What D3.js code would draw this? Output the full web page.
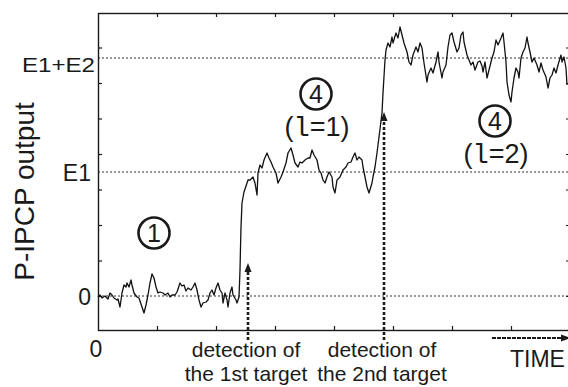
<!DOCTYPE html>
<html>
<head>
<meta charset="utf-8">
<script src="https://cdn.jsdelivr.net/npm/d3@7"></script>
<style>
  body { margin: 0; background: #fff; }
  svg { display: block; font-family: "Liberation Sans", Arial, sans-serif; }
</style>
</head>
<body>
<svg id="chart" width="568" height="387"></svg>
<script>
// output trace, [time step, output]
const trace = [
  [0,-1],[2,1],[4,-2],[7,0],[10,-3],[12,3],[14,1],[16,-2],[19,-4],[20,-3],[22,-11],[24,3],[26,11],[28,9],[29,13],
  [31,9],[33,16],[34,11],[36,3],[39,-1],[41,-2],[44,-11],[46,-17],[48,-9],[50,1],[52,13],[54,22],[56,18],[58,9],
  [60,3],[62,4],[65,3],[67,1],[70,3],[72,-1],[74,1],[77,1],[79,4],[82,13],[84,10],[86,11],[88,5],[90,8],[93,6],
  [95,9],[97,13],[99,6],[101,-4],[103,-11],[105,-7],[108,-6],[110,-4],[112,3],[114,6],[116,1],[118,8],[120,13],
  [122,6],[124,3],[125,-7],[127,3],[129,-4],[130,-11],[132,3],[134,9],[135,1],[138,-4],[139,-7],[141,-1],
  [142,26],[143,69],[144,93],[146,104],[147,107],[150,116],[152,116],[155,119],[157,113],[159,101],[160,123],
  [162,131],[164,128],[166,136],[169,143],[171,138],[173,134],[175,129],[178,123],[180,113],[183,119],[185,124],
  [188,133],[190,143],[193,148],[195,141],[197,133],[200,129],[202,134],[204,133],[207,136],[210,138],[212,138],
  [214,146],[216,141],[219,136],[221,126],[223,123],[225,116],[227,113],[229,119],[231,124],[234,119],[235,109],
  [237,103],[239,116],[242,119],[245,126],[248,129],[250,133],[253,134],[255,139],[257,143],[259,136],[261,139],
  [264,136],[265,129],[267,119],[269,109],[271,103],[274,113],[275,119],[277,129],[279,143],[281,159],[284,183],
  [285,203],[287,236],[288,246],[290,253],[292,249],[294,259],[295,253],[298,263],[300,258],[302,269],[304,261],
  [306,253],[309,244],[311,234],[313,231],[315,241],[318,249],[320,244],[322,253],[324,248],[326,233],[329,214],
  [330,221],[333,228],[335,223],[338,234],[340,244],[341,234],[344,218],[345,224],[348,231],[350,249],[352,261],
  [354,263],[356,254],[359,244],[361,248],[363,261],[365,264],[366,254],[369,241],[371,236],[373,231],[375,234],
  [377,226],[380,234],[382,235],[384,230],[385,224],[387,234],[389,218],[391,226],[394,238],[396,244],[398,256],
  [400,251],[403,258],[405,263],[406,254],[408,234],[409,214],[411,201],[413,194],[414,204],[416,218],[418,228],
  [420,224],[421,218],[423,238],[425,244],[427,248],[429,259],[430,253],[432,244],[434,234],[436,238],[439,231],
  [441,224],[443,233],[445,226],[448,219],[450,208],[452,218],[454,221],[456,228],[458,223],[460,231],[463,241],
  [464,234],[466,239],[468,228],[469,211]
];

const levels = [0, 124, 238];
const levelLabels = ["0", "E1", "E1+E2"];

const xTicks = [59, 118, 177, 236, 295, 354, 413];
const yTicks = [0, 35.5, 71, 106.5, 142, 177.5, 213, 248.5];

const detectTimes = [150, 286];
const detectTips = [33, 184];
const detectLabels = ["the 1st target", "the 2nd target"];

const notes = [
  { digit: "1", t: 56, v: 63, l: null },
  { digit: "4", t: 218, v: 202, l: "1" },
  { digit: "4", t: 397, v: 175, l: "2" }
];

const svg = d3.select("#chart");
const x = d3.scaleLinear().domain([0, 472]).range([98, 570]);
const y = d3.scaleLinear().domain([-34, 283]).range([330, 13]);
const ink = "#1a1a1a";

// dotted reference levels
svg.selectAll("line.level")
  .data(levels)
  .enter()
  .append("line")
  .attr("class", "level")
  .attr("x1", x(0)).attr("x2", x(472))
  .attr("y1", d => y(d)).attr("y2", d => y(d))
  .attr("stroke", "#333")
  .attr("stroke-width", 1)
  .attr("stroke-dasharray", "2,2");

// frame
svg.append("rect")
  .attr("x", x(0) + 0.5).attr("y", y(283) + 0.5)
  .attr("width", x(472) - x(0)).attr("height", y(-34) - y(283))
  .attr("fill", "none")
  .attr("stroke", ink)
  .attr("stroke-width", 1.4);

// inward ticks on all four sides
const tickAxes = [
  [d3.axisBottom(x).tickValues(xTicks), `translate(0,${y(-34)})`],
  [d3.axisTop(x).tickValues(xTicks), `translate(0,${y(283)})`],
  [d3.axisLeft(y).tickValues(yTicks), `translate(${x(0)},0)`],
  [d3.axisRight(y).tickValues(yTicks), `translate(${x(472)},0)`]
];
tickAxes.forEach(([ax, tr]) => {
  const g = svg.append("g")
    .attr("transform", tr)
    .call(ax.tickSizeInner(-4).tickSizeOuter(0).tickFormat(""));
  g.select(".domain").remove();
  g.selectAll("line").attr("stroke", ink).attr("stroke-width", 1.2);
});

// trace
const line = d3.line()
  .x(d => x(d[0]))
  .y(d => y(d[1]));

svg.append("path")
  .datum(trace)
  .attr("d", line)
  .attr("fill", "none")
  .attr("stroke", "#111")
  .attr("stroke-width", 1.3)
  .attr("stroke-linejoin", "round");

// y level labels
svg.selectAll("text.level")
  .data(levels)
  .enter()
  .append("text")
  .attr("class", "level")
  .attr("x", (d, i) => i === 2 ? x(0) - 3 : x(0) - 7)
  .attr("y", (d, i) => i === 2 ? y(d) + 14 : y(d) + 8.5)
  .attr("text-anchor", "end")
  .attr("font-size", (d, i) => i === 2 ? 21 : 23)
  .attr("fill", ink)
  .each(function (d, i) {
    if (i === 2) d3.select(this).attr("textLength", 73).attr("lengthAdjust", "spacingAndGlyphs");
  })
  .text((d, i) => levelLabels[i]);

// x origin label
svg.append("text")
  .attr("x", x(0) - 2)
  .attr("y", 357)
  .attr("text-anchor", "middle")
  .attr("font-size", 23)
  .attr("fill", ink)
  .text("0");

// y title
svg.append("text")
  .attr("transform", `translate(34,${(y(283) + y(-34)) / 2 + 20}) rotate(-90)`)
  .attr("text-anchor", "middle")
  .attr("font-size", 28)
  .attr("fill", ink)
  .text("P-IPCP output");

// detection arrows
detectTimes.forEach((t, i) => {
  const xp = x(t);
  const tip = y(detectTips[i]);
  svg.append("line")
    .attr("x1", xp).attr("x2", xp)
    .attr("y1", 340).attr("y2", tip + 8)
    .attr("stroke", ink)
    .attr("stroke-width", 2.6)
    .attr("stroke-dasharray", "3,2");
  svg.append("path")
    .attr("d", `M${xp},${tip} L${xp - 3.5},${tip + 9} L${xp + 3.5},${tip + 9} Z`)
    .attr("fill", ink);
  svg.append("text")
    .attr("x", xp - 2).attr("y", 357)
    .attr("text-anchor", "middle")
    .attr("font-size", 21)
    .attr("fill", ink)
    .text("detection of");
  svg.append("text")
    .attr("x", xp - 2).attr("y", 381)
    .attr("text-anchor", "middle")
    .attr("font-size", 21)
    .attr("fill", ink)
    .text(detectLabels[i]);
});

// TIME arrow
svg.append("line")
  .attr("x1", 492).attr("x2", 562)
  .attr("y1", 338).attr("y2", 338)
  .attr("stroke", ink)
  .attr("stroke-width", 2)
  .attr("stroke-dasharray", "4,1");
svg.append("path")
  .attr("d", "M571,338 L561,334.5 L561,341.5 Z")
  .attr("fill", ink);
svg.append("text")
  .attr("x", 510).attr("y", 367)
  .attr("font-size", 23)
  .attr("fill", ink)
  .text("TIME");

// circled state numbers
notes.forEach(n => {
  const cx = x(n.t), cy = y(n.v);
  svg.append("circle")
    .attr("cx", cx).attr("cy", cy).attr("r", 15.5)
    .attr("fill", "none")
    .attr("stroke", ink)
    .attr("stroke-width", 2.6);
  svg.append("text")
    .attr("x", cx).attr("y", cy + 9)
    .attr("text-anchor", "middle")
    .attr("font-size", 25)
    .attr("fill", ink)
    .text(n.digit);
  if (n.l) {
    const t = svg.append("text")
      .attr("x", cx + 1).attr("y", cy + 42)
      .attr("text-anchor", "middle")
      .attr("font-size", 27)
      .attr("fill", ink);
    t.append("tspan").text("(");
    t.append("tspan").attr("font-family", "'Liberation Mono', 'DejaVu Sans Mono', monospace").text("l");
    t.append("tspan").text("=" + n.l + ")");
  }
});
</script>
</body>
</html>
